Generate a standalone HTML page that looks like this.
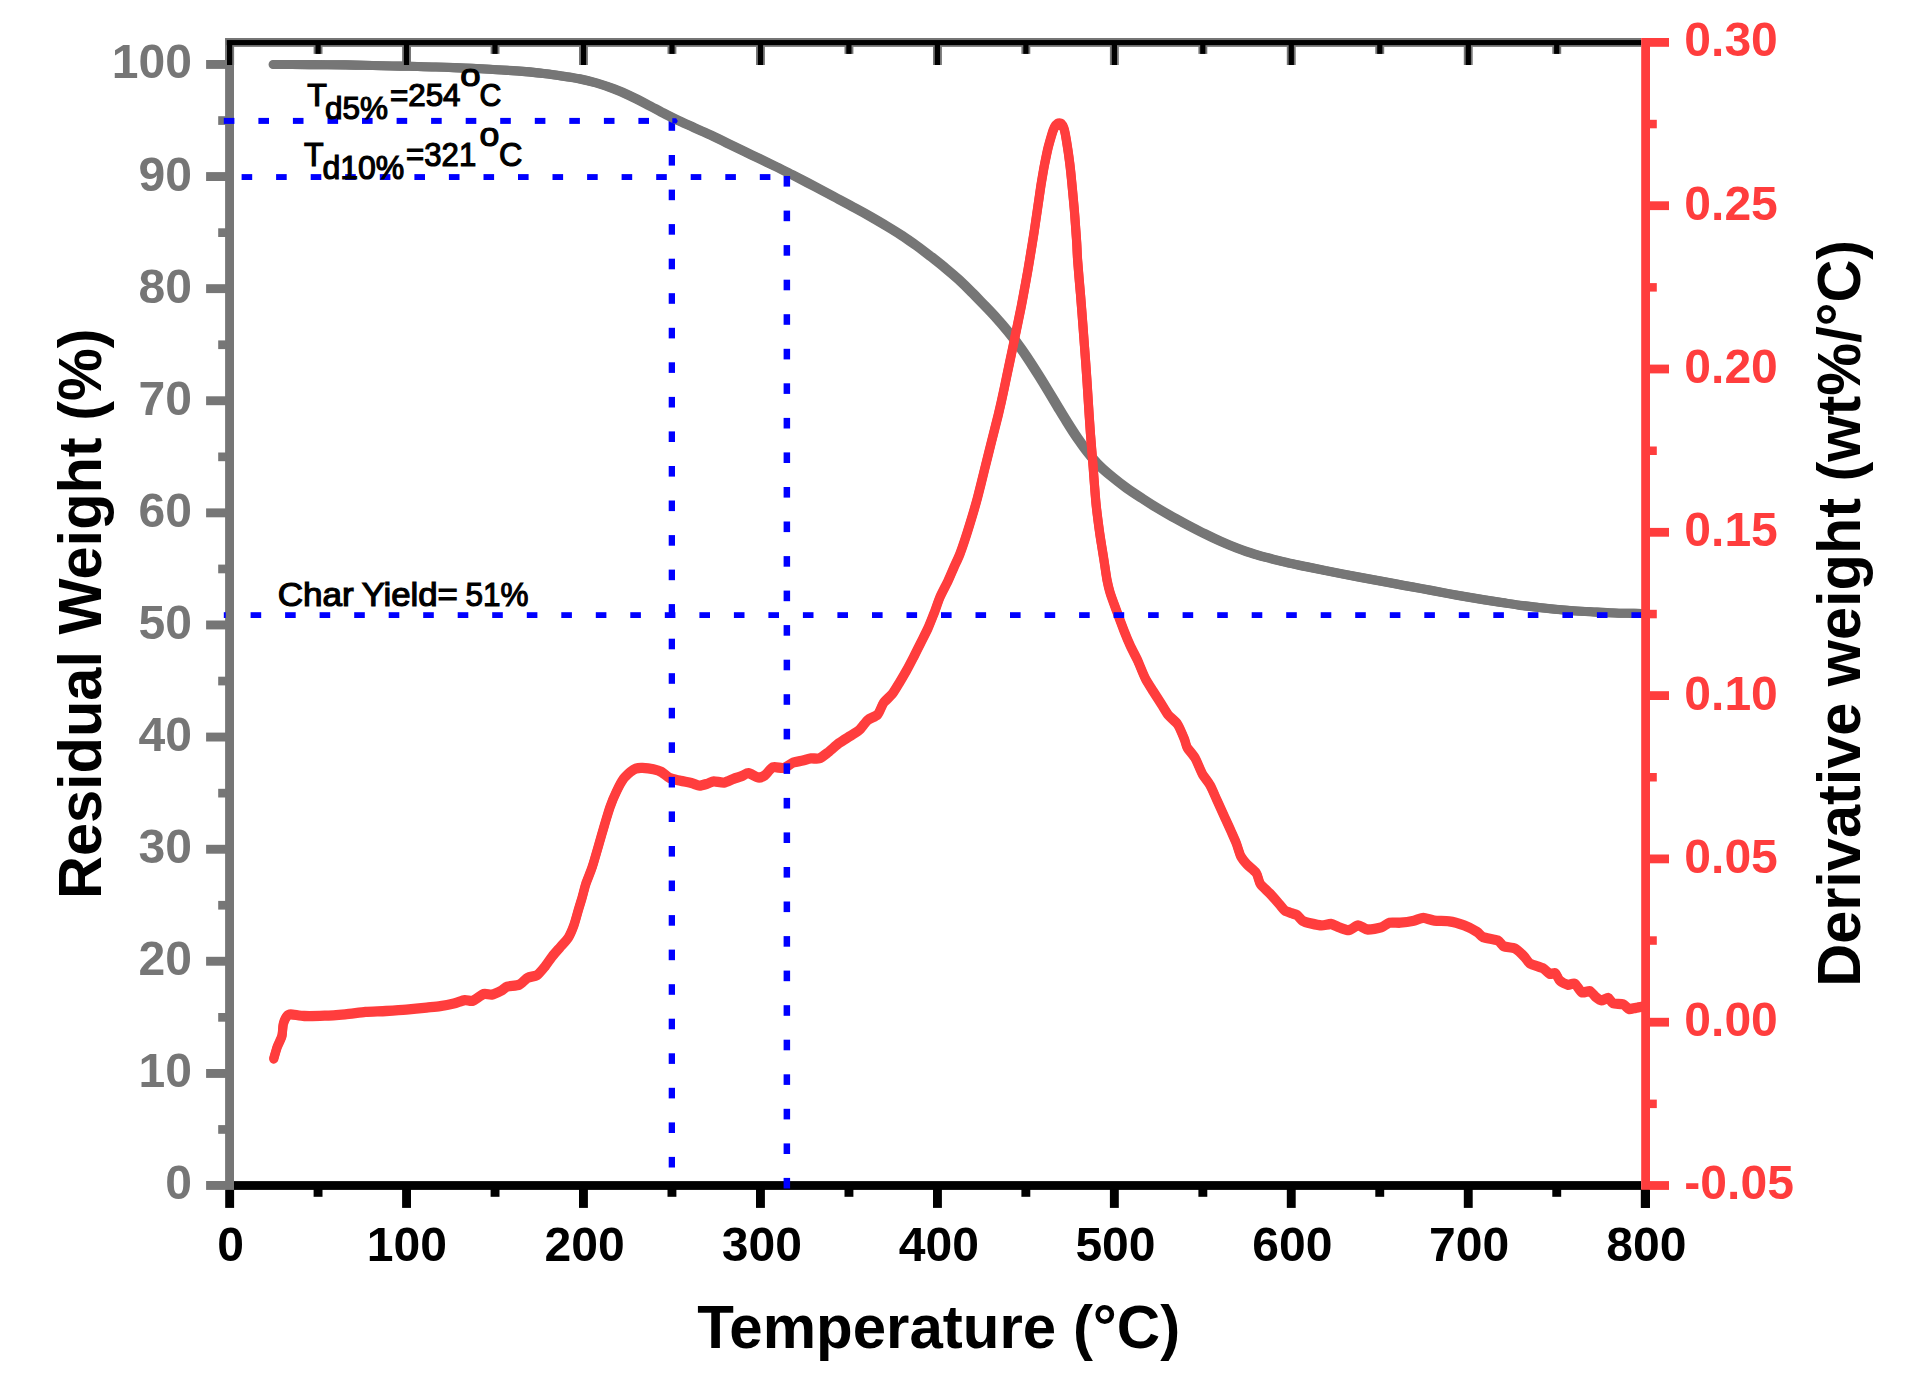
<!DOCTYPE html>
<html lang="en"><head><meta charset="utf-8"><title>TGA / DTG curves</title>
<style>html,body{margin:0;padding:0;background:#fff}body{width:1914px;height:1386px;overflow:hidden}</style>
</head><body>
<svg width="1914" height="1386" viewBox="0 0 1914 1386" style="display:block">
<rect width="1914" height="1386" fill="#fff"/>
<g fill="#767676">
<rect x="225.1" y="38" width="1416.1" height="8.9"/>
<rect x="225.2" y="46.5" width="8.9" height="18.5"/>
<rect x="313.6" y="46.5" width="8.9" height="7.4"/>
<rect x="402.1" y="46.5" width="8.9" height="18.5"/>
<rect x="490.6" y="46.5" width="8.9" height="7.4"/>
<rect x="579.0" y="46.5" width="8.9" height="18.5"/>
<rect x="667.5" y="46.5" width="8.9" height="7.4"/>
<rect x="756.0" y="46.5" width="8.9" height="18.5"/>
<rect x="844.5" y="46.5" width="8.9" height="7.4"/>
<rect x="933.0" y="46.5" width="8.9" height="18.5"/>
<rect x="1021.4" y="46.5" width="8.9" height="7.4"/>
<rect x="1109.9" y="46.5" width="8.9" height="18.5"/>
<rect x="1198.4" y="46.5" width="8.9" height="7.4"/>
<rect x="1286.8" y="46.5" width="8.9" height="18.5"/>
<rect x="1375.3" y="46.5" width="8.9" height="7.4"/>
<rect x="1463.8" y="46.5" width="8.9" height="18.5"/>
<rect x="1552.3" y="46.5" width="8.9" height="7.4"/>
</g>
<g fill="#000">
<rect x="233.8" y="1181.1" width="1407.4" height="8.8"/>
<rect x="225.2" y="1189" width="8.9" height="18.9"/>
<rect x="313.6" y="1189" width="8.9" height="7.8"/>
<rect x="402.1" y="1189" width="8.9" height="18.9"/>
<rect x="490.6" y="1189" width="8.9" height="7.8"/>
<rect x="579.0" y="1189" width="8.9" height="18.9"/>
<rect x="667.5" y="1189" width="8.9" height="7.8"/>
<rect x="756.0" y="1189" width="8.9" height="18.9"/>
<rect x="844.5" y="1189" width="8.9" height="7.8"/>
<rect x="933.0" y="1189" width="8.9" height="18.9"/>
<rect x="1021.4" y="1189" width="8.9" height="7.8"/>
<rect x="1109.9" y="1189" width="8.9" height="18.9"/>
<rect x="1198.4" y="1189" width="8.9" height="7.8"/>
<rect x="1286.8" y="1189" width="8.9" height="18.9"/>
<rect x="1375.3" y="1189" width="8.9" height="7.8"/>
<rect x="1463.8" y="1189" width="8.9" height="18.9"/>
<rect x="1552.3" y="1189" width="8.9" height="7.8"/>
<rect x="1640.8" y="1189" width="8.9" height="18.9"/>
</g>
<g fill="#767676">
<rect x="225.1" y="38" width="8.9" height="1151.9"/>
<rect x="206.1" y="1181.0" width="20" height="8.9"/>
<rect x="218.2" y="1125.1" width="8" height="8.7"/>
<rect x="206.1" y="1069.0" width="20" height="8.9"/>
<rect x="218.2" y="1013.0" width="8" height="8.7"/>
<rect x="206.1" y="956.8" width="20" height="8.9"/>
<rect x="218.2" y="900.9" width="8" height="8.7"/>
<rect x="206.1" y="844.8" width="20" height="8.9"/>
<rect x="218.2" y="788.8" width="8" height="8.7"/>
<rect x="206.1" y="732.6" width="20" height="8.9"/>
<rect x="218.2" y="676.7" width="8" height="8.7"/>
<rect x="206.1" y="620.5" width="20" height="8.9"/>
<rect x="218.2" y="564.6" width="8" height="8.7"/>
<rect x="206.1" y="508.4" width="20" height="8.9"/>
<rect x="218.2" y="452.5" width="8" height="8.7"/>
<rect x="206.1" y="396.3" width="20" height="8.9"/>
<rect x="218.2" y="340.4" width="8" height="8.7"/>
<rect x="206.1" y="284.2" width="20" height="8.9"/>
<rect x="218.2" y="228.3" width="8" height="8.7"/>
<rect x="206.1" y="172.1" width="20" height="8.9"/>
<rect x="218.2" y="116.2" width="8" height="8.7"/>
<rect x="206.1" y="60.0" width="20" height="8.9"/>
</g>
<rect x="668.6" y="118.5" width="6.5" height="12.3" fill="#0000FF"/>
<g fill="none" stroke="#767676" stroke-width="9.1" stroke-linecap="round" stroke-linejoin="round"><path d="M273.8,64.5C276.8,64.5 285.8,64.5 291.8,64.5C297.8,64.5 303.8,64.5 309.8,64.6C315.8,64.6 321.8,64.6 327.8,64.7C333.8,64.7 339.8,64.8 345.8,64.9C351.8,65.0 357.8,65.2 363.8,65.3C369.8,65.4 375.8,65.6 381.8,65.7C387.8,65.8 393.8,65.9 399.8,66.1C405.8,66.2 411.8,66.4 417.8,66.5C423.8,66.7 429.8,66.9 435.8,67.0C441.8,67.2 447.8,67.4 453.8,67.6C459.8,67.8 465.8,68.0 471.7,68.3C477.7,68.6 483.7,69.0 489.7,69.3C495.7,69.6 501.7,70.0 507.7,70.4C513.7,70.7 519.7,71.1 525.6,71.6C531.6,72.1 537.6,72.8 543.5,73.5C549.5,74.2 555.4,75.1 561.4,75.9C567.3,76.8 573.3,77.5 579.1,78.7C585.0,79.9 590.8,81.3 596.6,83.0C602.3,84.7 608.0,86.6 613.6,88.8C619.2,90.9 624.7,93.2 630.1,95.8C635.6,98.3 640.9,101.1 646.2,103.9C651.5,106.6 656.7,109.6 662.0,112.4C667.4,115.1 672.7,117.9 678.1,120.4C683.5,123.0 689.1,125.3 694.5,127.8C700.0,130.3 705.5,132.7 710.9,135.2C716.3,137.7 721.7,140.4 727.1,143.1C732.5,145.7 737.9,148.3 743.3,150.9C748.7,153.5 754.1,156.1 759.5,158.7C764.9,161.3 770.3,163.9 775.7,166.5C781.1,169.2 786.5,171.8 791.8,174.5C797.2,177.3 802.5,180.1 807.8,182.9C813.1,185.7 818.4,188.5 823.7,191.3C829.0,194.1 834.3,196.9 839.6,199.8C844.9,202.6 850.2,205.4 855.5,208.3C860.7,211.1 866.0,214.0 871.2,217.0C876.4,220.0 881.6,223.0 886.7,226.1C891.9,229.2 897.0,232.3 902.0,235.6C907.0,238.9 911.9,242.4 916.8,245.9C921.6,249.4 926.4,253.1 931.1,256.7C935.8,260.4 940.6,264.1 945.2,268.0C949.8,271.8 954.4,275.7 958.8,279.7C963.2,283.8 967.5,288.0 971.7,292.2C976.0,296.5 980.1,300.8 984.3,305.1C988.4,309.5 992.6,313.8 996.6,318.3C1000.6,322.7 1004.5,327.3 1008.3,331.9C1012.1,336.5 1015.8,341.3 1019.3,346.1C1022.9,351.0 1026.2,355.9 1029.5,360.9C1032.8,365.9 1036.0,371.0 1039.2,376.1C1042.4,381.2 1045.5,386.3 1048.6,391.5C1051.7,396.6 1054.7,401.8 1057.8,406.9C1060.9,412.0 1064.0,417.2 1067.2,422.2C1070.4,427.3 1073.6,432.4 1077.0,437.4C1080.4,442.3 1083.8,447.3 1087.5,452.0C1091.2,456.7 1095.0,461.3 1099.2,465.5C1103.4,469.7 1108.0,473.5 1112.7,477.3C1117.3,481.1 1122.1,484.8 1126.9,488.3C1131.8,491.8 1136.8,495.0 1141.9,498.3C1146.9,501.6 1151.9,504.8 1157.1,507.9C1162.2,511.0 1167.4,514.0 1172.7,516.9C1177.9,519.8 1183.2,522.6 1188.5,525.4C1193.8,528.2 1199.1,531.0 1204.5,533.6C1209.9,536.3 1215.3,538.9 1220.8,541.4C1226.2,543.8 1231.8,546.2 1237.4,548.3C1243.0,550.4 1248.6,552.4 1254.4,554.1C1260.1,555.9 1265.9,557.3 1271.7,558.8C1277.5,560.3 1283.4,561.7 1289.2,563.1C1295.1,564.4 1301.0,565.6 1306.8,566.8C1312.7,568.0 1318.6,569.2 1324.5,570.4C1330.4,571.6 1336.2,572.7 1342.1,573.9C1348.0,575.0 1353.9,576.1 1359.8,577.2C1365.7,578.3 1371.6,579.4 1377.5,580.5C1383.4,581.6 1389.3,582.7 1395.2,583.8C1401.1,584.9 1407.0,585.9 1412.9,587.0C1418.8,588.1 1424.7,589.2 1430.6,590.3C1436.5,591.4 1442.4,592.5 1448.3,593.6C1454.2,594.6 1460.1,595.7 1466.0,596.7C1472.0,597.7 1477.9,598.7 1483.8,599.7C1489.7,600.6 1495.6,601.6 1501.6,602.5C1507.5,603.4 1513.4,604.4 1519.4,605.2C1525.3,606.0 1531.3,606.6 1537.2,607.3C1543.2,607.9 1549.2,608.6 1555.1,609.2C1561.1,609.7 1567.1,610.3 1573.1,610.8C1579.0,611.2 1585.0,611.5 1591.0,611.8C1597.0,612.1 1603.0,612.5 1609.0,612.7C1615.0,612.9 1621.4,613.2 1626.9,613.3C1632.3,613.4 1638.6,613.4 1641.6,613.5C1644.7,613.5 1644.4,613.5 1645.0,613.5" transform="translate(-0.7,0)"/><path d="M273.8,64.5C276.8,64.5 285.8,64.5 291.8,64.5C297.8,64.5 303.8,64.5 309.8,64.6C315.8,64.6 321.8,64.6 327.8,64.7C333.8,64.7 339.8,64.8 345.8,64.9C351.8,65.0 357.8,65.2 363.8,65.3C369.8,65.4 375.8,65.6 381.8,65.7C387.8,65.8 393.8,65.9 399.8,66.1C405.8,66.2 411.8,66.4 417.8,66.5C423.8,66.7 429.8,66.9 435.8,67.0C441.8,67.2 447.8,67.4 453.8,67.6C459.8,67.8 465.8,68.0 471.7,68.3C477.7,68.6 483.7,69.0 489.7,69.3C495.7,69.6 501.7,70.0 507.7,70.4C513.7,70.7 519.7,71.1 525.6,71.6C531.6,72.1 537.6,72.8 543.5,73.5C549.5,74.2 555.4,75.1 561.4,75.9C567.3,76.8 573.3,77.5 579.1,78.7C585.0,79.9 590.8,81.3 596.6,83.0C602.3,84.7 608.0,86.6 613.6,88.8C619.2,90.9 624.7,93.2 630.1,95.8C635.6,98.3 640.9,101.1 646.2,103.9C651.5,106.6 656.7,109.6 662.0,112.4C667.4,115.1 672.7,117.9 678.1,120.4C683.5,123.0 689.1,125.3 694.5,127.8C700.0,130.3 705.5,132.7 710.9,135.2C716.3,137.7 721.7,140.4 727.1,143.1C732.5,145.7 737.9,148.3 743.3,150.9C748.7,153.5 754.1,156.1 759.5,158.7C764.9,161.3 770.3,163.9 775.7,166.5C781.1,169.2 786.5,171.8 791.8,174.5C797.2,177.3 802.5,180.1 807.8,182.9C813.1,185.7 818.4,188.5 823.7,191.3C829.0,194.1 834.3,196.9 839.6,199.8C844.9,202.6 850.2,205.4 855.5,208.3C860.7,211.1 866.0,214.0 871.2,217.0C876.4,220.0 881.6,223.0 886.7,226.1C891.9,229.2 897.0,232.3 902.0,235.6C907.0,238.9 911.9,242.4 916.8,245.9C921.6,249.4 926.4,253.1 931.1,256.7C935.8,260.4 940.6,264.1 945.2,268.0C949.8,271.8 954.4,275.7 958.8,279.7C963.2,283.8 967.5,288.0 971.7,292.2C976.0,296.5 980.1,300.8 984.3,305.1C988.4,309.5 992.6,313.8 996.6,318.3C1000.6,322.7 1004.5,327.3 1008.3,331.9C1012.1,336.5 1015.8,341.3 1019.3,346.1C1022.9,351.0 1026.2,355.9 1029.5,360.9C1032.8,365.9 1036.0,371.0 1039.2,376.1C1042.4,381.2 1045.5,386.3 1048.6,391.5C1051.7,396.6 1054.7,401.8 1057.8,406.9C1060.9,412.0 1064.0,417.2 1067.2,422.2C1070.4,427.3 1073.6,432.4 1077.0,437.4C1080.4,442.3 1083.8,447.3 1087.5,452.0C1091.2,456.7 1095.0,461.3 1099.2,465.5C1103.4,469.7 1108.0,473.5 1112.7,477.3C1117.3,481.1 1122.1,484.8 1126.9,488.3C1131.8,491.8 1136.8,495.0 1141.9,498.3C1146.9,501.6 1151.9,504.8 1157.1,507.9C1162.2,511.0 1167.4,514.0 1172.7,516.9C1177.9,519.8 1183.2,522.6 1188.5,525.4C1193.8,528.2 1199.1,531.0 1204.5,533.6C1209.9,536.3 1215.3,538.9 1220.8,541.4C1226.2,543.8 1231.8,546.2 1237.4,548.3C1243.0,550.4 1248.6,552.4 1254.4,554.1C1260.1,555.9 1265.9,557.3 1271.7,558.8C1277.5,560.3 1283.4,561.7 1289.2,563.1C1295.1,564.4 1301.0,565.6 1306.8,566.8C1312.7,568.0 1318.6,569.2 1324.5,570.4C1330.4,571.6 1336.2,572.7 1342.1,573.9C1348.0,575.0 1353.9,576.1 1359.8,577.2C1365.7,578.3 1371.6,579.4 1377.5,580.5C1383.4,581.6 1389.3,582.7 1395.2,583.8C1401.1,584.9 1407.0,585.9 1412.9,587.0C1418.8,588.1 1424.7,589.2 1430.6,590.3C1436.5,591.4 1442.4,592.5 1448.3,593.6C1454.2,594.6 1460.1,595.7 1466.0,596.7C1472.0,597.7 1477.9,598.7 1483.8,599.7C1489.7,600.6 1495.6,601.6 1501.6,602.5C1507.5,603.4 1513.4,604.4 1519.4,605.2C1525.3,606.0 1531.3,606.6 1537.2,607.3C1543.2,607.9 1549.2,608.6 1555.1,609.2C1561.1,609.7 1567.1,610.3 1573.1,610.8C1579.0,611.2 1585.0,611.5 1591.0,611.8C1597.0,612.1 1603.0,612.5 1609.0,612.7C1615.0,612.9 1621.4,613.2 1626.9,613.3C1632.3,613.4 1638.6,613.4 1641.6,613.5C1644.7,613.5 1644.4,613.5 1645.0,613.5" transform="translate(0.7,0)"/></g>
<path d="M672.3,118.2 L676.2,118.2 L677.8,121 L676.4,123.4 L672.3,123.4 Z" fill="#0000FF"/>
<g fill="#000">
<rect x="226.8" y="40.05" width="1414.4" height="5.05"/>
<rect x="227.0" y="44" width="5.2" height="21.0"/>
<rect x="315.5" y="44" width="5.2" height="9.9"/>
<rect x="403.9" y="44" width="5.2" height="21.0"/>
<rect x="492.4" y="44" width="5.2" height="9.9"/>
<rect x="580.9" y="44" width="5.2" height="21.0"/>
<rect x="669.4" y="44" width="5.2" height="9.9"/>
<rect x="757.9" y="44" width="5.2" height="21.0"/>
<rect x="846.3" y="44" width="5.2" height="9.9"/>
<rect x="934.8" y="44" width="5.2" height="21.0"/>
<rect x="1023.3" y="44" width="5.2" height="9.9"/>
<rect x="1111.8" y="44" width="5.2" height="21.0"/>
<rect x="1200.2" y="44" width="5.2" height="9.9"/>
<rect x="1288.7" y="44" width="5.2" height="21.0"/>
<rect x="1377.2" y="44" width="5.2" height="9.9"/>
<rect x="1465.7" y="44" width="5.2" height="21.0"/>
<rect x="1554.1" y="44" width="5.2" height="9.9"/>
</g>
<g fill="none" stroke="#FF3D3D" stroke-width="9.1" stroke-linecap="round" stroke-linejoin="round"><path d="M273.8,1058.5C274.2,1057.2 276.3,1049.6 277.2,1047.0C278.1,1044.4 281.2,1038.8 281.9,1036.1C282.6,1033.4 282.7,1026.2 283.3,1023.9C283.9,1021.6 285.8,1017.5 286.7,1016.4C287.6,1015.3 288.7,1014.3 290.8,1014.3C292.9,1014.3 300.3,1015.8 304.3,1016.0C308.3,1016.2 319.9,1015.9 324.7,1015.7C329.5,1015.5 340.3,1014.7 345.1,1014.3C349.9,1013.9 360.7,1012.3 365.5,1011.9C370.3,1011.5 381.1,1011.3 385.9,1011.0C390.7,1010.7 401.6,1010.0 406.3,1009.6C411.0,1009.2 422.6,1008.0 426.6,1007.6C430.6,1007.2 437.0,1006.7 440.2,1006.2C443.4,1005.7 450.9,1004.2 453.8,1003.5C456.7,1002.8 462.5,1000.4 464.7,1000.1C466.9,999.8 470.6,1001.5 472.8,1000.8C475.0,1000.1 481.5,994.7 483.7,994.0C485.9,993.3 489.7,995.0 491.8,994.6C493.9,994.2 499.6,991.5 501.4,990.6C503.2,989.7 505.1,987.3 507.2,986.6C509.3,985.9 517.0,985.6 519.4,984.6C521.8,983.6 525.5,978.9 527.6,977.8C529.7,976.7 535.0,976.5 537.1,975.1C539.2,973.7 543.5,968.3 545.2,966.2C546.9,964.1 550.2,958.9 552.0,956.7C553.8,954.5 558.3,949.4 560.2,947.2C562.1,945.0 566.7,940.2 568.3,937.7C569.9,935.2 572.7,928.5 573.8,925.5C574.9,922.5 576.9,915.1 577.8,911.9C578.7,908.7 580.9,901.6 581.9,898.3C582.9,895.0 584.8,887.0 586.0,883.4C587.2,879.8 590.7,871.7 592.2,867.1C593.7,862.5 597.6,848.9 599.0,844.0C600.4,839.1 603.2,829.3 604.5,825.0C605.8,820.7 608.5,811.3 609.9,807.3C611.3,803.3 615.1,794.3 616.7,791.0C618.3,787.7 621.9,781.0 623.5,778.8C625.1,776.6 628.9,773.2 630.3,772.0C631.7,770.8 634.3,769.1 635.7,768.6C637.1,768.1 640.4,767.8 642.5,767.9C644.6,768.0 651.2,768.8 653.4,769.3C655.6,769.8 659.6,771.0 661.5,772.0C663.4,773.0 667.5,777.1 669.7,778.1C671.9,779.1 678.0,780.2 680.5,780.8C683.0,781.4 689.2,782.3 691.4,782.9C693.6,783.5 697.7,785.5 699.6,785.6C701.5,785.7 706.0,784.1 707.7,783.6C709.4,783.1 711.9,781.4 713.8,781.3C715.7,781.2 721.7,782.9 724.0,782.6C726.3,782.3 731.4,779.6 733.5,778.8C735.6,778.0 740.0,776.8 741.7,776.1C743.5,775.4 746.6,772.9 748.5,773.1C750.4,773.3 756.1,777.1 758.0,777.4C759.9,777.7 763.1,776.6 764.8,775.4C766.5,774.2 770.7,768.2 772.9,767.3C775.1,766.4 781.4,768.5 783.8,767.9C786.2,767.3 791.1,763.4 793.3,762.5C795.5,761.6 800.7,761.0 802.8,760.5C804.9,760.0 809.1,758.6 811.0,758.4C812.9,758.2 817.2,759.0 819.1,758.4C821.0,757.8 825.0,754.8 827.3,753.0C829.6,751.2 836.3,745.2 838.8,743.3C841.3,741.4 846.5,738.3 848.9,736.8C851.3,735.3 856.8,732.2 859.0,730.3C861.2,728.4 865.4,722.1 867.6,720.2C869.8,718.3 875.8,716.4 877.7,714.4C879.6,712.4 881.8,705.3 883.5,702.9C885.2,700.5 890.2,696.6 892.1,694.2C894.0,691.8 897.7,685.5 899.4,682.7C901.1,679.9 904.9,673.4 906.6,670.4C908.3,667.4 912.1,660.0 913.8,656.7C915.5,653.4 919.3,645.7 921.0,642.3C922.7,638.9 926.7,631.2 928.2,627.8C929.7,624.4 932.6,616.9 934.0,613.4C935.4,609.9 938.2,601.3 939.8,597.5C941.4,593.7 946.3,584.6 948.0,581.0C949.7,577.4 952.7,570.2 954.1,567.0C955.5,563.8 958.4,558.0 960.2,553.2C962.0,548.4 967.4,532.0 969.4,525.5C971.4,519.0 975.8,504.3 977.5,497.8C979.2,491.3 982.8,476.6 984.4,470.1C986.0,463.6 989.7,448.9 991.3,442.4C992.9,435.9 996.8,420.9 998.3,414.7C999.8,408.5 1002.7,395.5 1004.0,389.3C1005.3,383.1 1008.4,368.1 1009.8,361.6C1011.2,355.1 1014.3,340.4 1015.6,333.9C1016.9,327.4 1020.1,312.4 1021.3,306.2C1022.5,300.0 1025.0,286.2 1026.0,280.8C1027.0,275.4 1028.7,265.6 1029.6,260.0C1030.5,254.4 1033.0,239.1 1034.0,232.8C1035.0,226.5 1037.0,212.0 1037.9,206.2C1038.8,200.4 1040.5,187.9 1041.3,183.1C1042.1,178.3 1043.7,168.7 1044.5,164.7C1045.3,160.7 1047.1,151.9 1047.9,148.5C1048.7,145.1 1050.7,138.2 1051.4,135.8C1052.1,133.4 1053.6,129.1 1054.3,127.7C1055.0,126.3 1056.9,124.2 1057.7,123.7C1058.5,123.2 1060.5,123.1 1061.2,123.7C1061.9,124.3 1063.5,127.0 1064.1,128.9C1064.7,130.8 1065.9,137.3 1066.4,140.4C1066.9,143.5 1068.2,151.8 1068.7,155.4C1069.2,159.0 1070.3,167.6 1070.7,171.6C1071.1,175.6 1072.1,185.8 1072.5,190.1C1072.9,194.4 1073.8,204.2 1074.2,208.5C1074.6,212.8 1075.3,222.8 1075.6,227.0C1075.9,231.2 1076.6,240.5 1076.8,244.3C1077.0,248.2 1077.2,254.1 1077.6,260.0C1078.0,265.9 1079.8,286.5 1080.5,294.6C1081.2,302.7 1082.6,321.2 1083.2,329.3C1083.8,337.4 1085.2,355.8 1085.8,363.9C1086.4,372.0 1087.6,390.4 1088.1,398.5C1088.6,406.6 1089.8,425.1 1090.4,433.2C1091.0,441.3 1092.6,459.7 1093.2,467.8C1093.8,475.9 1095.2,494.9 1095.9,502.4C1096.6,509.9 1098.7,525.9 1099.6,532.4C1100.5,538.9 1102.7,552.2 1103.6,557.8C1104.5,563.4 1106.2,575.9 1107.0,580.0C1107.8,584.1 1109.1,589.5 1110.2,593.1C1111.3,596.7 1114.9,606.3 1116.5,610.7C1118.1,615.1 1122.4,626.6 1124.0,630.7C1125.6,634.8 1128.7,642.3 1130.3,645.8C1131.9,649.3 1136.0,657.0 1137.8,660.8C1139.5,664.6 1143.5,674.9 1145.3,678.4C1147.1,681.9 1151.0,687.9 1152.9,690.9C1154.8,693.9 1159.6,701.3 1161.4,704.1C1163.2,706.9 1166.3,712.5 1168.2,714.9C1170.1,717.3 1175.8,721.6 1177.7,724.5C1179.6,727.4 1183.4,736.7 1184.5,739.4C1185.6,742.1 1185.9,745.4 1187.2,747.6C1188.5,749.8 1193.6,755.4 1195.3,758.4C1197.0,761.4 1200.3,770.2 1202.1,773.4C1203.8,776.6 1208.5,782.4 1210.3,785.6C1212.0,788.8 1215.5,797.0 1217.1,800.5C1218.7,804.0 1222.3,812.0 1223.9,815.5C1225.5,819.0 1229.3,827.2 1230.7,830.4C1232.1,833.6 1234.9,839.7 1236.1,842.7C1237.3,845.7 1239.5,853.8 1240.8,856.3C1242.1,858.8 1245.2,862.4 1247.0,864.4C1248.8,866.4 1254.7,870.8 1256.3,873.1C1257.9,875.4 1258.8,881.6 1260.4,884.0C1262.0,886.4 1267.7,891.1 1269.9,893.5C1272.1,895.9 1277.7,902.3 1279.4,904.3C1281.1,906.3 1283.4,909.5 1284.8,910.5C1286.2,911.5 1290.2,912.7 1291.6,913.2C1293.0,913.7 1295.8,914.3 1297.1,915.2C1298.4,916.1 1300.9,919.7 1302.5,920.7C1304.1,921.7 1308.5,922.9 1310.7,923.4C1312.9,923.9 1319.1,925.3 1321.5,925.4C1323.9,925.5 1328.9,923.8 1331.0,924.0C1333.1,924.2 1337.1,926.7 1339.2,927.4C1341.3,928.1 1346.5,930.4 1348.7,930.2C1350.9,930.0 1356.0,925.5 1358.2,925.4C1360.4,925.3 1365.0,929.3 1367.7,929.5C1370.4,929.7 1378.8,928.2 1381.3,927.4C1383.8,926.6 1387.3,923.2 1389.5,922.7C1391.7,922.2 1397.5,922.9 1400.3,922.7C1403.1,922.5 1411.2,921.3 1413.9,920.7C1416.6,920.1 1421.0,917.9 1423.4,917.9C1425.8,917.9 1431.3,920.3 1434.3,920.7C1437.3,921.1 1445.7,920.8 1449.2,921.3C1452.7,921.8 1460.9,924.2 1464.2,925.4C1467.5,926.6 1475.0,930.6 1477.2,932.0C1479.4,933.4 1480.6,936.1 1483.0,937.1C1485.4,938.1 1495.5,939.5 1497.9,940.6C1500.3,941.7 1501.7,945.4 1503.7,946.3C1505.7,947.2 1512.8,947.4 1515.2,948.6C1517.6,949.8 1522.7,955.0 1524.4,956.7C1526.1,958.5 1528.0,962.3 1530.1,963.6C1532.2,964.9 1540.5,967.0 1542.8,968.2C1545.1,969.4 1548.2,973.3 1549.7,973.9C1551.2,974.5 1554.2,972.5 1555.4,973.3C1556.6,974.1 1558.5,979.5 1560.0,980.8C1561.5,982.1 1566.3,984.5 1568.0,984.8C1569.7,985.1 1573.3,982.8 1574.9,983.7C1576.5,984.6 1580.0,991.4 1581.8,992.3C1583.5,993.2 1588.3,990.6 1589.9,991.1C1591.5,991.6 1594.3,995.8 1595.6,996.9C1596.9,998.0 1599.9,1000.2 1601.4,1000.3C1602.9,1000.4 1607.0,997.7 1608.3,998.0C1609.6,998.3 1611.2,1002.5 1612.9,1003.2C1614.6,1003.9 1621.3,1003.7 1623.2,1004.4C1625.1,1005.1 1627.5,1008.6 1629.0,1009.0C1630.5,1009.4 1634.0,1008.1 1635.9,1007.8C1637.8,1007.5 1643.9,1006.3 1645.0,1006.1" transform="translate(0,-0.6)"/><path d="M273.8,1058.5C274.2,1057.2 276.3,1049.6 277.2,1047.0C278.1,1044.4 281.2,1038.8 281.9,1036.1C282.6,1033.4 282.7,1026.2 283.3,1023.9C283.9,1021.6 285.8,1017.5 286.7,1016.4C287.6,1015.3 288.7,1014.3 290.8,1014.3C292.9,1014.3 300.3,1015.8 304.3,1016.0C308.3,1016.2 319.9,1015.9 324.7,1015.7C329.5,1015.5 340.3,1014.7 345.1,1014.3C349.9,1013.9 360.7,1012.3 365.5,1011.9C370.3,1011.5 381.1,1011.3 385.9,1011.0C390.7,1010.7 401.6,1010.0 406.3,1009.6C411.0,1009.2 422.6,1008.0 426.6,1007.6C430.6,1007.2 437.0,1006.7 440.2,1006.2C443.4,1005.7 450.9,1004.2 453.8,1003.5C456.7,1002.8 462.5,1000.4 464.7,1000.1C466.9,999.8 470.6,1001.5 472.8,1000.8C475.0,1000.1 481.5,994.7 483.7,994.0C485.9,993.3 489.7,995.0 491.8,994.6C493.9,994.2 499.6,991.5 501.4,990.6C503.2,989.7 505.1,987.3 507.2,986.6C509.3,985.9 517.0,985.6 519.4,984.6C521.8,983.6 525.5,978.9 527.6,977.8C529.7,976.7 535.0,976.5 537.1,975.1C539.2,973.7 543.5,968.3 545.2,966.2C546.9,964.1 550.2,958.9 552.0,956.7C553.8,954.5 558.3,949.4 560.2,947.2C562.1,945.0 566.7,940.2 568.3,937.7C569.9,935.2 572.7,928.5 573.8,925.5C574.9,922.5 576.9,915.1 577.8,911.9C578.7,908.7 580.9,901.6 581.9,898.3C582.9,895.0 584.8,887.0 586.0,883.4C587.2,879.8 590.7,871.7 592.2,867.1C593.7,862.5 597.6,848.9 599.0,844.0C600.4,839.1 603.2,829.3 604.5,825.0C605.8,820.7 608.5,811.3 609.9,807.3C611.3,803.3 615.1,794.3 616.7,791.0C618.3,787.7 621.9,781.0 623.5,778.8C625.1,776.6 628.9,773.2 630.3,772.0C631.7,770.8 634.3,769.1 635.7,768.6C637.1,768.1 640.4,767.8 642.5,767.9C644.6,768.0 651.2,768.8 653.4,769.3C655.6,769.8 659.6,771.0 661.5,772.0C663.4,773.0 667.5,777.1 669.7,778.1C671.9,779.1 678.0,780.2 680.5,780.8C683.0,781.4 689.2,782.3 691.4,782.9C693.6,783.5 697.7,785.5 699.6,785.6C701.5,785.7 706.0,784.1 707.7,783.6C709.4,783.1 711.9,781.4 713.8,781.3C715.7,781.2 721.7,782.9 724.0,782.6C726.3,782.3 731.4,779.6 733.5,778.8C735.6,778.0 740.0,776.8 741.7,776.1C743.5,775.4 746.6,772.9 748.5,773.1C750.4,773.3 756.1,777.1 758.0,777.4C759.9,777.7 763.1,776.6 764.8,775.4C766.5,774.2 770.7,768.2 772.9,767.3C775.1,766.4 781.4,768.5 783.8,767.9C786.2,767.3 791.1,763.4 793.3,762.5C795.5,761.6 800.7,761.0 802.8,760.5C804.9,760.0 809.1,758.6 811.0,758.4C812.9,758.2 817.2,759.0 819.1,758.4C821.0,757.8 825.0,754.8 827.3,753.0C829.6,751.2 836.3,745.2 838.8,743.3C841.3,741.4 846.5,738.3 848.9,736.8C851.3,735.3 856.8,732.2 859.0,730.3C861.2,728.4 865.4,722.1 867.6,720.2C869.8,718.3 875.8,716.4 877.7,714.4C879.6,712.4 881.8,705.3 883.5,702.9C885.2,700.5 890.2,696.6 892.1,694.2C894.0,691.8 897.7,685.5 899.4,682.7C901.1,679.9 904.9,673.4 906.6,670.4C908.3,667.4 912.1,660.0 913.8,656.7C915.5,653.4 919.3,645.7 921.0,642.3C922.7,638.9 926.7,631.2 928.2,627.8C929.7,624.4 932.6,616.9 934.0,613.4C935.4,609.9 938.2,601.3 939.8,597.5C941.4,593.7 946.3,584.6 948.0,581.0C949.7,577.4 952.7,570.2 954.1,567.0C955.5,563.8 958.4,558.0 960.2,553.2C962.0,548.4 967.4,532.0 969.4,525.5C971.4,519.0 975.8,504.3 977.5,497.8C979.2,491.3 982.8,476.6 984.4,470.1C986.0,463.6 989.7,448.9 991.3,442.4C992.9,435.9 996.8,420.9 998.3,414.7C999.8,408.5 1002.7,395.5 1004.0,389.3C1005.3,383.1 1008.4,368.1 1009.8,361.6C1011.2,355.1 1014.3,340.4 1015.6,333.9C1016.9,327.4 1020.1,312.4 1021.3,306.2C1022.5,300.0 1025.0,286.2 1026.0,280.8C1027.0,275.4 1028.7,265.6 1029.6,260.0C1030.5,254.4 1033.0,239.1 1034.0,232.8C1035.0,226.5 1037.0,212.0 1037.9,206.2C1038.8,200.4 1040.5,187.9 1041.3,183.1C1042.1,178.3 1043.7,168.7 1044.5,164.7C1045.3,160.7 1047.1,151.9 1047.9,148.5C1048.7,145.1 1050.7,138.2 1051.4,135.8C1052.1,133.4 1053.6,129.1 1054.3,127.7C1055.0,126.3 1056.9,124.2 1057.7,123.7C1058.5,123.2 1060.5,123.1 1061.2,123.7C1061.9,124.3 1063.5,127.0 1064.1,128.9C1064.7,130.8 1065.9,137.3 1066.4,140.4C1066.9,143.5 1068.2,151.8 1068.7,155.4C1069.2,159.0 1070.3,167.6 1070.7,171.6C1071.1,175.6 1072.1,185.8 1072.5,190.1C1072.9,194.4 1073.8,204.2 1074.2,208.5C1074.6,212.8 1075.3,222.8 1075.6,227.0C1075.9,231.2 1076.6,240.5 1076.8,244.3C1077.0,248.2 1077.2,254.1 1077.6,260.0C1078.0,265.9 1079.8,286.5 1080.5,294.6C1081.2,302.7 1082.6,321.2 1083.2,329.3C1083.8,337.4 1085.2,355.8 1085.8,363.9C1086.4,372.0 1087.6,390.4 1088.1,398.5C1088.6,406.6 1089.8,425.1 1090.4,433.2C1091.0,441.3 1092.6,459.7 1093.2,467.8C1093.8,475.9 1095.2,494.9 1095.9,502.4C1096.6,509.9 1098.7,525.9 1099.6,532.4C1100.5,538.9 1102.7,552.2 1103.6,557.8C1104.5,563.4 1106.2,575.9 1107.0,580.0C1107.8,584.1 1109.1,589.5 1110.2,593.1C1111.3,596.7 1114.9,606.3 1116.5,610.7C1118.1,615.1 1122.4,626.6 1124.0,630.7C1125.6,634.8 1128.7,642.3 1130.3,645.8C1131.9,649.3 1136.0,657.0 1137.8,660.8C1139.5,664.6 1143.5,674.9 1145.3,678.4C1147.1,681.9 1151.0,687.9 1152.9,690.9C1154.8,693.9 1159.6,701.3 1161.4,704.1C1163.2,706.9 1166.3,712.5 1168.2,714.9C1170.1,717.3 1175.8,721.6 1177.7,724.5C1179.6,727.4 1183.4,736.7 1184.5,739.4C1185.6,742.1 1185.9,745.4 1187.2,747.6C1188.5,749.8 1193.6,755.4 1195.3,758.4C1197.0,761.4 1200.3,770.2 1202.1,773.4C1203.8,776.6 1208.5,782.4 1210.3,785.6C1212.0,788.8 1215.5,797.0 1217.1,800.5C1218.7,804.0 1222.3,812.0 1223.9,815.5C1225.5,819.0 1229.3,827.2 1230.7,830.4C1232.1,833.6 1234.9,839.7 1236.1,842.7C1237.3,845.7 1239.5,853.8 1240.8,856.3C1242.1,858.8 1245.2,862.4 1247.0,864.4C1248.8,866.4 1254.7,870.8 1256.3,873.1C1257.9,875.4 1258.8,881.6 1260.4,884.0C1262.0,886.4 1267.7,891.1 1269.9,893.5C1272.1,895.9 1277.7,902.3 1279.4,904.3C1281.1,906.3 1283.4,909.5 1284.8,910.5C1286.2,911.5 1290.2,912.7 1291.6,913.2C1293.0,913.7 1295.8,914.3 1297.1,915.2C1298.4,916.1 1300.9,919.7 1302.5,920.7C1304.1,921.7 1308.5,922.9 1310.7,923.4C1312.9,923.9 1319.1,925.3 1321.5,925.4C1323.9,925.5 1328.9,923.8 1331.0,924.0C1333.1,924.2 1337.1,926.7 1339.2,927.4C1341.3,928.1 1346.5,930.4 1348.7,930.2C1350.9,930.0 1356.0,925.5 1358.2,925.4C1360.4,925.3 1365.0,929.3 1367.7,929.5C1370.4,929.7 1378.8,928.2 1381.3,927.4C1383.8,926.6 1387.3,923.2 1389.5,922.7C1391.7,922.2 1397.5,922.9 1400.3,922.7C1403.1,922.5 1411.2,921.3 1413.9,920.7C1416.6,920.1 1421.0,917.9 1423.4,917.9C1425.8,917.9 1431.3,920.3 1434.3,920.7C1437.3,921.1 1445.7,920.8 1449.2,921.3C1452.7,921.8 1460.9,924.2 1464.2,925.4C1467.5,926.6 1475.0,930.6 1477.2,932.0C1479.4,933.4 1480.6,936.1 1483.0,937.1C1485.4,938.1 1495.5,939.5 1497.9,940.6C1500.3,941.7 1501.7,945.4 1503.7,946.3C1505.7,947.2 1512.8,947.4 1515.2,948.6C1517.6,949.8 1522.7,955.0 1524.4,956.7C1526.1,958.5 1528.0,962.3 1530.1,963.6C1532.2,964.9 1540.5,967.0 1542.8,968.2C1545.1,969.4 1548.2,973.3 1549.7,973.9C1551.2,974.5 1554.2,972.5 1555.4,973.3C1556.6,974.1 1558.5,979.5 1560.0,980.8C1561.5,982.1 1566.3,984.5 1568.0,984.8C1569.7,985.1 1573.3,982.8 1574.9,983.7C1576.5,984.6 1580.0,991.4 1581.8,992.3C1583.5,993.2 1588.3,990.6 1589.9,991.1C1591.5,991.6 1594.3,995.8 1595.6,996.9C1596.9,998.0 1599.9,1000.2 1601.4,1000.3C1602.9,1000.4 1607.0,997.7 1608.3,998.0C1609.6,998.3 1611.2,1002.5 1612.9,1003.2C1614.6,1003.9 1621.3,1003.7 1623.2,1004.4C1625.1,1005.1 1627.5,1008.6 1629.0,1009.0C1630.5,1009.4 1634.0,1008.1 1635.9,1007.8C1637.8,1007.5 1643.9,1006.3 1645.0,1006.1" transform="translate(0,0.6)"/></g>
<g fill="#0000FF">
<rect x="223.8" y="117.9" width="10.6" height="6"/>
<rect x="258.4" y="117.9" width="10.6" height="6"/>
<rect x="292.9" y="117.9" width="10.6" height="6"/>
<rect x="327.5" y="117.9" width="10.6" height="6"/>
<rect x="362.0" y="117.9" width="10.6" height="6"/>
<rect x="396.6" y="117.9" width="10.6" height="6"/>
<rect x="431.1" y="117.9" width="10.6" height="6"/>
<rect x="465.7" y="117.9" width="10.6" height="6"/>
<rect x="500.2" y="117.9" width="10.6" height="6"/>
<rect x="534.8" y="117.9" width="10.6" height="6"/>
<rect x="569.3" y="117.9" width="10.6" height="6"/>
<rect x="603.9" y="117.9" width="10.6" height="6"/>
<rect x="638.4" y="117.9" width="10.6" height="6"/>
<rect x="668.7" y="155.0" width="6.3" height="10.6"/>
<rect x="668.7" y="189.6" width="6.3" height="10.6"/>
<rect x="668.7" y="224.1" width="6.3" height="10.6"/>
<rect x="668.7" y="258.7" width="6.3" height="10.6"/>
<rect x="668.7" y="293.2" width="6.3" height="10.6"/>
<rect x="668.7" y="327.8" width="6.3" height="10.6"/>
<rect x="668.7" y="362.3" width="6.3" height="10.6"/>
<rect x="668.7" y="396.9" width="6.3" height="10.6"/>
<rect x="668.7" y="431.4" width="6.3" height="10.6"/>
<rect x="668.7" y="466.0" width="6.3" height="10.6"/>
<rect x="668.7" y="500.5" width="6.3" height="10.6"/>
<rect x="668.7" y="535.1" width="6.3" height="10.6"/>
<rect x="668.7" y="569.6" width="6.3" height="10.6"/>
<rect x="668.7" y="604.1" width="6.3" height="10.6"/>
<rect x="668.7" y="638.7" width="6.3" height="10.6"/>
<rect x="668.7" y="673.2" width="6.3" height="10.6"/>
<rect x="668.7" y="707.8" width="6.3" height="10.6"/>
<rect x="668.7" y="742.3" width="6.3" height="10.6"/>
<rect x="668.7" y="776.9" width="6.3" height="10.6"/>
<rect x="668.7" y="811.4" width="6.3" height="10.6"/>
<rect x="668.7" y="846.0" width="6.3" height="10.6"/>
<rect x="668.7" y="880.5" width="6.3" height="10.6"/>
<rect x="668.7" y="915.1" width="6.3" height="10.6"/>
<rect x="668.7" y="949.6" width="6.3" height="10.6"/>
<rect x="668.7" y="984.2" width="6.3" height="10.6"/>
<rect x="668.7" y="1018.7" width="6.3" height="10.6"/>
<rect x="668.7" y="1053.3" width="6.3" height="10.6"/>
<rect x="668.7" y="1087.8" width="6.3" height="10.6"/>
<rect x="668.7" y="1122.4" width="6.3" height="10.6"/>
<rect x="668.7" y="1156.9" width="6.3" height="10.6"/>
<rect x="241.6" y="174.1" width="10.6" height="5.9"/>
<rect x="276.1" y="174.1" width="10.6" height="5.9"/>
<rect x="310.7" y="174.1" width="10.6" height="5.9"/>
<rect x="345.2" y="174.1" width="10.6" height="5.9"/>
<rect x="379.8" y="174.1" width="10.6" height="5.9"/>
<rect x="414.4" y="174.1" width="10.6" height="5.9"/>
<rect x="448.9" y="174.1" width="10.6" height="5.9"/>
<rect x="483.5" y="174.1" width="10.6" height="5.9"/>
<rect x="518.0" y="174.1" width="10.6" height="5.9"/>
<rect x="552.5" y="174.1" width="10.6" height="5.9"/>
<rect x="587.1" y="174.1" width="10.6" height="5.9"/>
<rect x="621.6" y="174.1" width="10.6" height="5.9"/>
<rect x="656.2" y="174.1" width="10.6" height="5.9"/>
<rect x="690.7" y="174.1" width="10.6" height="5.9"/>
<rect x="725.3" y="174.1" width="10.6" height="5.9"/>
<rect x="759.8" y="174.1" width="10.6" height="5.9"/>
<rect x="783.6" y="176.0" width="6.5" height="10.6"/>
<rect x="783.6" y="210.6" width="6.5" height="10.6"/>
<rect x="783.6" y="245.1" width="6.5" height="10.6"/>
<rect x="783.6" y="279.7" width="6.5" height="10.6"/>
<rect x="783.6" y="314.2" width="6.5" height="10.6"/>
<rect x="783.6" y="348.8" width="6.5" height="10.6"/>
<rect x="783.6" y="383.3" width="6.5" height="10.6"/>
<rect x="783.6" y="417.9" width="6.5" height="10.6"/>
<rect x="783.6" y="452.4" width="6.5" height="10.6"/>
<rect x="783.6" y="487.0" width="6.5" height="10.6"/>
<rect x="783.6" y="521.5" width="6.5" height="10.6"/>
<rect x="783.6" y="556.1" width="6.5" height="10.6"/>
<rect x="783.6" y="590.6" width="6.5" height="10.6"/>
<rect x="783.6" y="625.1" width="6.5" height="10.6"/>
<rect x="783.6" y="659.7" width="6.5" height="10.6"/>
<rect x="783.6" y="694.2" width="6.5" height="10.6"/>
<rect x="783.6" y="728.8" width="6.5" height="10.6"/>
<rect x="783.6" y="763.3" width="6.5" height="10.6"/>
<rect x="783.6" y="797.9" width="6.5" height="10.6"/>
<rect x="783.6" y="832.4" width="6.5" height="10.6"/>
<rect x="783.6" y="867.0" width="6.5" height="10.6"/>
<rect x="783.6" y="901.5" width="6.5" height="10.6"/>
<rect x="783.6" y="936.1" width="6.5" height="10.6"/>
<rect x="783.6" y="970.6" width="6.5" height="10.6"/>
<rect x="783.6" y="1005.2" width="6.5" height="10.6"/>
<rect x="783.6" y="1039.7" width="6.5" height="10.6"/>
<rect x="783.6" y="1074.3" width="6.5" height="10.6"/>
<rect x="783.6" y="1108.8" width="6.5" height="10.6"/>
<rect x="783.6" y="1143.4" width="6.5" height="10.6"/>
<rect x="783.6" y="1177.9" width="6.5" height="10.6"/>
<rect x="223.8" y="612.2" width="2" height="5.8"/>
<rect x="250.6" y="612.2" width="10.6" height="5.8"/>
<rect x="285.1" y="612.2" width="10.6" height="5.8"/>
<rect x="319.6" y="612.2" width="10.6" height="5.8"/>
<rect x="354.2" y="612.2" width="10.6" height="5.8"/>
<rect x="388.7" y="612.2" width="10.6" height="5.8"/>
<rect x="423.2" y="612.2" width="10.6" height="5.8"/>
<rect x="457.7" y="612.2" width="10.6" height="5.8"/>
<rect x="492.2" y="612.2" width="10.6" height="5.8"/>
<rect x="526.8" y="612.2" width="10.6" height="5.8"/>
<rect x="561.3" y="612.2" width="10.6" height="5.8"/>
<rect x="595.8" y="612.2" width="10.6" height="5.8"/>
<rect x="630.3" y="612.2" width="10.6" height="5.8"/>
<rect x="664.8" y="612.2" width="10.6" height="5.8"/>
<rect x="699.4" y="612.2" width="10.6" height="5.8"/>
<rect x="733.9" y="612.2" width="10.6" height="5.8"/>
<rect x="768.4" y="612.2" width="10.6" height="5.8"/>
<rect x="802.9" y="612.2" width="10.6" height="5.8"/>
<rect x="837.4" y="612.2" width="10.6" height="5.8"/>
<rect x="872.0" y="612.2" width="10.6" height="5.8"/>
<rect x="906.5" y="612.2" width="10.6" height="5.8"/>
<rect x="941.0" y="612.2" width="10.6" height="5.8"/>
<rect x="975.5" y="612.2" width="10.6" height="5.8"/>
<rect x="1010.0" y="612.2" width="10.6" height="5.8"/>
<rect x="1044.6" y="612.2" width="10.6" height="5.8"/>
<rect x="1079.1" y="612.2" width="10.6" height="5.8"/>
<rect x="1113.6" y="612.2" width="10.6" height="5.8"/>
<rect x="1148.1" y="612.2" width="10.6" height="5.8"/>
<rect x="1182.6" y="612.2" width="10.6" height="5.8"/>
<rect x="1217.2" y="612.2" width="10.6" height="5.8"/>
<rect x="1251.7" y="612.2" width="10.6" height="5.8"/>
<rect x="1286.2" y="612.2" width="10.6" height="5.8"/>
<rect x="1320.7" y="612.2" width="10.6" height="5.8"/>
<rect x="1355.2" y="612.2" width="10.6" height="5.8"/>
<rect x="1389.8" y="612.2" width="10.6" height="5.8"/>
<rect x="1424.3" y="612.2" width="10.6" height="5.8"/>
<rect x="1458.8" y="612.2" width="10.6" height="5.8"/>
<rect x="1493.3" y="612.2" width="10.6" height="5.8"/>
<rect x="1527.8" y="612.2" width="10.6" height="5.8"/>
<rect x="1562.4" y="612.2" width="10.6" height="5.8"/>
<rect x="1596.9" y="612.2" width="10.6" height="5.8"/>
<rect x="1631.4" y="612.2" width="9.8" height="5.8"/>
</g>
<g fill="#FF3D3D">
<rect x="1641.2" y="38" width="8.8" height="1151.9"/>
<rect x="1649" y="1181.1" width="20" height="8.8"/>
<rect x="1649" y="1099.6" width="7.8" height="8.5"/>
<rect x="1649" y="1017.8" width="20" height="8.8"/>
<rect x="1649" y="936.3" width="7.8" height="8.5"/>
<rect x="1649" y="854.5" width="20" height="8.8"/>
<rect x="1649" y="773.0" width="7.8" height="8.5"/>
<rect x="1649" y="691.2" width="20" height="8.8"/>
<rect x="1649" y="609.8" width="7.8" height="8.5"/>
<rect x="1649" y="527.9" width="20" height="8.8"/>
<rect x="1649" y="446.5" width="7.8" height="8.5"/>
<rect x="1649" y="364.6" width="20" height="8.8"/>
<rect x="1649" y="283.1" width="7.8" height="8.5"/>
<rect x="1649" y="201.3" width="20" height="8.8"/>
<rect x="1649" y="119.8" width="7.8" height="8.5"/>
<rect x="1649" y="38.0" width="20" height="8.8"/>
</g>
<rect x="1641.1" y="1189.9" width="8.9" height="18" fill="#000"/>
<text font-family="Liberation Sans, sans-serif" font-weight="bold" font-size="47.50" fill="#000" transform="translate(217.16,1260.50) scale(1.0120,1.0159)">0</text>
<text font-family="Liberation Sans, sans-serif" font-weight="bold" font-size="47.50" fill="#000" transform="translate(366.82,1260.50) scale(1.0120,1.0159)">100</text>
<text font-family="Liberation Sans, sans-serif" font-weight="bold" font-size="47.50" fill="#000" transform="translate(544.44,1260.50) scale(1.0120,1.0159)">200</text>
<text font-family="Liberation Sans, sans-serif" font-weight="bold" font-size="47.50" fill="#000" transform="translate(721.68,1260.50) scale(1.0120,1.0159)">300</text>
<text font-family="Liberation Sans, sans-serif" font-weight="bold" font-size="47.50" fill="#000" transform="translate(898.81,1260.50) scale(1.0120,1.0159)">400</text>
<text font-family="Liberation Sans, sans-serif" font-weight="bold" font-size="47.50" fill="#000" transform="translate(1075.39,1260.50) scale(1.0120,1.0159)">500</text>
<text font-family="Liberation Sans, sans-serif" font-weight="bold" font-size="47.50" fill="#000" transform="translate(1252.19,1260.50) scale(1.0120,1.0159)">600</text>
<text font-family="Liberation Sans, sans-serif" font-weight="bold" font-size="47.50" fill="#000" transform="translate(1429.00,1260.50) scale(1.0120,1.0159)">700</text>
<text font-family="Liberation Sans, sans-serif" font-weight="bold" font-size="47.50" fill="#000" transform="translate(1606.21,1260.50) scale(1.0120,1.0159)">800</text>
<text font-family="Liberation Sans, sans-serif" font-weight="bold" font-size="47.50" fill="#767676" transform="translate(165.22,1199.40) scale(1.0120,1.0159)">0</text>
<text font-family="Liberation Sans, sans-serif" font-weight="bold" font-size="47.50" fill="#767676" transform="translate(138.49,1087.30) scale(1.0120,1.0159)">10</text>
<text font-family="Liberation Sans, sans-serif" font-weight="bold" font-size="47.50" fill="#767676" transform="translate(138.49,975.20) scale(1.0120,1.0159)">20</text>
<text font-family="Liberation Sans, sans-serif" font-weight="bold" font-size="47.50" fill="#767676" transform="translate(138.49,863.10) scale(1.0120,1.0159)">30</text>
<text font-family="Liberation Sans, sans-serif" font-weight="bold" font-size="47.50" fill="#767676" transform="translate(138.49,751.00) scale(1.0120,1.0159)">40</text>
<text font-family="Liberation Sans, sans-serif" font-weight="bold" font-size="47.50" fill="#767676" transform="translate(138.49,638.90) scale(1.0120,1.0159)">50</text>
<text font-family="Liberation Sans, sans-serif" font-weight="bold" font-size="47.50" fill="#767676" transform="translate(138.49,526.80) scale(1.0120,1.0159)">60</text>
<text font-family="Liberation Sans, sans-serif" font-weight="bold" font-size="47.50" fill="#767676" transform="translate(138.49,414.70) scale(1.0120,1.0159)">70</text>
<text font-family="Liberation Sans, sans-serif" font-weight="bold" font-size="47.50" fill="#767676" transform="translate(138.49,302.60) scale(1.0120,1.0159)">80</text>
<text font-family="Liberation Sans, sans-serif" font-weight="bold" font-size="47.50" fill="#767676" transform="translate(138.49,190.50) scale(1.0120,1.0159)">90</text>
<text font-family="Liberation Sans, sans-serif" font-weight="bold" font-size="47.50" fill="#767676" transform="translate(111.74,78.40) scale(1.0120,1.0159)">100</text>
<text font-family="Liberation Sans, sans-serif" font-weight="bold" font-size="47.50" fill="#FF3D3D" transform="translate(1684.33,1199.40) scale(1.0120,1.0159)">-0.05</text>
<text font-family="Liberation Sans, sans-serif" font-weight="bold" font-size="47.50" fill="#FF3D3D" transform="translate(1684.30,1036.10) scale(1.0120,1.0159)">0.00</text>
<text font-family="Liberation Sans, sans-serif" font-weight="bold" font-size="47.50" fill="#FF3D3D" transform="translate(1684.30,872.80) scale(1.0120,1.0159)">0.05</text>
<text font-family="Liberation Sans, sans-serif" font-weight="bold" font-size="47.50" fill="#FF3D3D" transform="translate(1684.30,709.50) scale(1.0120,1.0159)">0.10</text>
<text font-family="Liberation Sans, sans-serif" font-weight="bold" font-size="47.50" fill="#FF3D3D" transform="translate(1684.30,546.20) scale(1.0120,1.0159)">0.15</text>
<text font-family="Liberation Sans, sans-serif" font-weight="bold" font-size="47.50" fill="#FF3D3D" transform="translate(1684.30,382.90) scale(1.0120,1.0159)">0.20</text>
<text font-family="Liberation Sans, sans-serif" font-weight="bold" font-size="47.50" fill="#FF3D3D" transform="translate(1684.30,219.60) scale(1.0120,1.0159)">0.25</text>
<text font-family="Liberation Sans, sans-serif" font-weight="bold" font-size="47.50" fill="#FF3D3D" transform="translate(1684.30,56.30) scale(1.0120,1.0159)">0.30</text>
<text font-family="Liberation Sans, sans-serif" font-weight="bold" font-size="60.02" fill="#000" transform="translate(697.14,1348.20) scale(1.0000,1.0074)">Temperature (°C)</text>
<text font-family="Liberation Sans, sans-serif" font-weight="bold" font-size="59.50" fill="#000" transform="translate(100.50,899.06) rotate(-90) scale(1.0000,1.0211)">Residual Weight (%)</text>
<text font-family="Liberation Sans, sans-serif" font-weight="bold" font-size="59.44" fill="#000" transform="translate(1860.10,986.75) rotate(-90) scale(1.0000,1.0246)">Derivative weight (wt%/°C)</text>
<text font-family="Liberation Sans, sans-serif" font-size="31.40" fill="#000" stroke="#000" stroke-width="1.2" transform="scale(1,0.9999)"><tspan x="307.19" y="105.82" textLength="19.64" lengthAdjust="spacingAndGlyphs">T</tspan><tspan x="324.99" y="118.62" textLength="63.01" lengthAdjust="spacingAndGlyphs">d5%</tspan><tspan x="389.98" y="105.82" textLength="70.53" lengthAdjust="spacingAndGlyphs">=254</tspan><tspan x="460.28" y="86.11" textLength="20.34" lengthAdjust="spacingAndGlyphs">o</tspan><tspan x="479.48" y="105.92" textLength="21.76" lengthAdjust="spacingAndGlyphs">C</tspan></text>
<text font-family="Liberation Sans, sans-serif" font-size="33.10" fill="#000" stroke="#000" stroke-width="1.2" transform="scale(1,1.0012)"><tspan x="304.09" y="165.60" textLength="19.64" lengthAdjust="spacingAndGlyphs">T</tspan><tspan x="322.47" y="179.29" textLength="81.85" lengthAdjust="spacingAndGlyphs">d10%</tspan><tspan x="406.09" y="165.60" textLength="70.12" lengthAdjust="spacingAndGlyphs">=321</tspan><tspan x="479.52" y="145.83" textLength="19.87" lengthAdjust="spacingAndGlyphs">o</tspan><tspan x="498.97" y="165.80" textLength="23.35" lengthAdjust="spacingAndGlyphs">C</tspan></text>
<text font-family="Liberation Sans, sans-serif" font-size="33.10" fill="#000" stroke="#000" stroke-width="1.2" transform="scale(1,1.0012)"><tspan x="277.83" y="605.18" textLength="75.95" lengthAdjust="spacingAndGlyphs">Char</tspan> <tspan x="361.64" y="605.18" textLength="96.27" lengthAdjust="spacingAndGlyphs">Yield=</tspan> <tspan x="465.54" y="605.18" textLength="62.96" lengthAdjust="spacingAndGlyphs">51%</tspan></text>
</svg>
</body></html>
